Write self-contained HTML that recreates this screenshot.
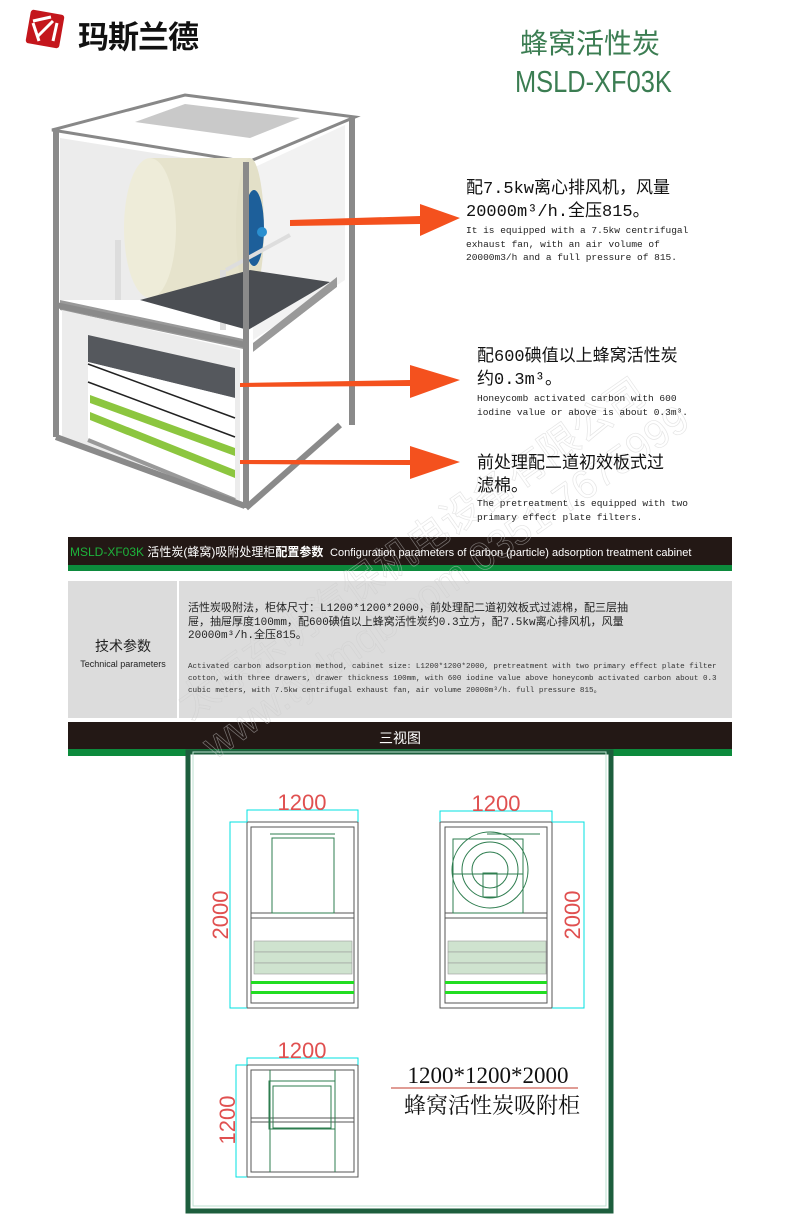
<!DOCTYPE html>
<html><head><meta charset="utf-8"><style>
body{margin:0;background:#fff;}
#w{position:relative;width:800px;height:1218px;overflow:hidden;font-family:"Liberation Sans","Noto Sans CJK SC",sans-serif;}
.a{position:absolute;white-space:nowrap;}
.cn{font-family:"Liberation Mono","Noto Sans CJK SC",monospace;color:#111;}
.en{font-family:"Liberation Mono","Noto Sans CJK SC",monospace;font-size:9.5px;color:#222;line-height:13.5px;}
</style></head><body><div id="w">
<svg class="a" style="left:0;top:0" width="800" height="1218" viewBox="0 0 800 1218">
<!-- logo -->
<g transform="translate(45,29)">
<rect x="-17" y="-17" width="34" height="34" rx="3" fill="#c4161c" transform="rotate(10)"/>
<path d="M-12,-8 L6,-12 M12,-6 L8,12 M-6,12 L-12,-6" stroke="#fff" stroke-width="3" fill="none"/>
<path d="M-8,8 L8,-8" stroke="#fff" stroke-width="3"/>
</g>
<!-- cabinet -->
<polygon points="52,130 185,95 355,117 248,162" fill="#fff" stroke="#888" stroke-width="3"/>
<polygon points="135,122 185,104 300,118 250,138" fill="#c9c9c9"/>
<polygon points="60,138 248,168 248,300 60,300" fill="#ececec"/>
<polygon points="253,168 345,125 345,280 253,340" fill="#f2f2f2"/>
<rect x="150" y="158" width="100" height="140" fill="#e6e3cc"/>
<ellipse cx="150" cy="228" rx="26" ry="70" fill="#eeecd9"/>
<ellipse cx="250" cy="228" rx="14" ry="70" fill="#e3e0c8"/>
<ellipse cx="254" cy="228" rx="10" ry="38" fill="#1d5f9a"/>
<circle cx="262" cy="232" r="5" fill="#2a8fd0"/>
<rect x="115" y="240" width="6" height="60" fill="#ddd"/>
<rect x="220" y="270" width="6" height="60" fill="#ddd"/>
<line x1="226" y1="270" x2="290" y2="235" stroke="#ddd" stroke-width="4"/>
<polygon points="60,300 248,340 248,350 60,310" fill="#999"/>
<polygon points="140,300 248,330 330,282 250,270" fill="#4a4d52"/>
<polygon points="253,343 337,277 337,287 253,352" fill="#999"/>
<polygon points="62,310 240,350 240,505 62,440" fill="#ececec"/>
<polygon points="88,335 235,368 235,398 88,362" fill="#55585d"/>
<polygon points="88,362 235,398 235,505 88,440" fill="#fff"/>
<line x1="88" y1="364" x2="235" y2="418" stroke="#222" stroke-width="1.5"/>
<line x1="88" y1="382" x2="235" y2="437" stroke="#222" stroke-width="1.5"/>
<polygon points="90,395 235,448 235,456 90,403" fill="#8cc63f"/>
<polygon points="90,412 235,470 235,478 90,420" fill="#8cc63f"/>
<line x1="88" y1="440" x2="235" y2="500" stroke="#999" stroke-width="4"/>
<polygon points="253,352 337,287 337,423 253,505" fill="#fff"/>
<g fill="none" stroke="#8a8a8a" stroke-width="6">
<line x1="56" y1="130" x2="56" y2="437"/>
<line x1="56" y1="437" x2="245" y2="506"/>
<line x1="246" y1="162" x2="246" y2="508"/>
<line x1="352" y1="117" x2="352" y2="425"/>
<line x1="246" y1="508" x2="340" y2="425"/>
<line x1="56" y1="305" x2="246" y2="345"/>
</g>
<!-- arrows -->
<g fill="#f4511e">
<polygon points="290,220 420,216 420,204 460,218 420,236 420,224 290,226"/>
<polygon points="240,383 410,380 410,365 460,380 410,398 410,386 240,387"/>
<polygon points="240,460 410,460 410,446 460,462 410,479 410,465 240,464"/>
</g>
<!-- banners -->
<rect x="68" y="537" width="664" height="29" fill="#231815"/>
<rect x="68" y="565" width="664" height="6" fill="#0c8a3c"/>
<rect x="68" y="581" width="664" height="137" fill="#dcdcdc"/>
<rect x="177" y="581" width="2" height="137" fill="#fff"/>
<rect x="68" y="722" width="664" height="28" fill="#231815"/>
<rect x="68" y="749" width="664" height="7" fill="#0c8a3c"/>
<!-- frame -->
<rect x="188" y="752" width="423" height="459" fill="#fff" stroke="#1d5e3d" stroke-width="5"/>
<rect x="193" y="752" width="413" height="454" fill="none" stroke="#bde0d0" stroke-width="1"/>
<!-- drawings -->
<g fill="none" stroke="#555" stroke-width="1">
<rect x="247" y="822" width="111" height="186"/><rect x="251" y="827" width="103" height="176"/>
<rect x="440" y="822" width="112" height="186"/><rect x="445" y="827" width="102" height="176"/>
<rect x="247" y="1065" width="111" height="112"/><rect x="251" y="1070" width="103" height="102"/>
<line x1="251" y1="913" x2="354" y2="913"/><line x1="445" y1="913" x2="547" y2="913"/>
<line x1="251" y1="918" x2="354" y2="918"/><line x1="445" y1="918" x2="547" y2="918"/>
<line x1="251" y1="1118" x2="354" y2="1118"/><line x1="251" y1="1122" x2="354" y2="1122"/>
</g>
<g fill="none" stroke="#2e7d4f" stroke-width="1">
<rect x="272" y="838" width="62" height="75"/><line x1="270" y1="834" x2="335" y2="834"/>
<rect x="453" y="839" width="70" height="74"/><line x1="487" y1="834" x2="540" y2="834"/>
<circle cx="490" cy="870" r="38"/><circle cx="490" cy="870" r="28"/><circle cx="490" cy="870" r="18"/>
<rect x="483" y="873" width="14" height="24"/><line x1="453" y1="874" x2="523" y2="874"/>
<rect x="269" y="1081" width="66" height="48"/><rect x="273" y="1086" width="58" height="42"/>
<line x1="270" y1="1070" x2="270" y2="1172"/><line x1="335" y1="1070" x2="335" y2="1172"/>
</g>
<g fill="#cfe3cf" stroke="#999" stroke-width="0.6">
<rect x="254" y="941" width="98" height="11"/><rect x="254" y="952" width="98" height="11"/><rect x="254" y="963" width="98" height="11"/>
<rect x="448" y="941" width="98" height="11"/><rect x="448" y="952" width="98" height="11"/><rect x="448" y="963" width="98" height="11"/>
</g>
<g fill="#22dd22">
<rect x="251" y="981" width="103" height="3"/><rect x="251" y="991" width="103" height="3"/>
<rect x="445" y="981" width="102" height="3"/><rect x="445" y="991" width="102" height="3"/>
</g>
<g fill="none" stroke="#00e0e0" stroke-width="1">
<polyline points="247,822 247,810 358,810 358,822"/>
<polyline points="440,822 440,811 552,811 552,822"/>
<polyline points="247,822 230,822 230,1008 247,1008"/>
<polyline points="552,822 584,822 584,1008 552,1008"/>
<polyline points="247,1065 247,1058 358,1058 358,1065"/>
<polyline points="247,1065 236,1065 236,1177 247,1177"/>
</g>
<g fill="#e05050" font-family="Liberation Sans,sans-serif" font-size="22">
<text x="302" y="810" text-anchor="middle">1200</text>
<text x="496" y="811" text-anchor="middle">1200</text>
<text x="302" y="1058" text-anchor="middle">1200</text>
<text transform="translate(228,915) rotate(-90)" text-anchor="middle">2000</text>
<text transform="translate(580,915) rotate(-90)" text-anchor="middle">2000</text>
<text transform="translate(235,1120) rotate(-90)" text-anchor="middle">1200</text>
</g>
<line x1="391" y1="1088" x2="578" y2="1088" stroke="#c0392b" stroke-width="1"/>
<text x="488" y="1083" text-anchor="middle" font-family="Liberation Serif,serif" font-size="23" fill="#111">1200*1200*2000</text>
<text x="492" y="1113" text-anchor="middle" font-family="Liberation Serif,'Noto Serif CJK SC',serif" font-size="22" fill="#111">蜂窝活性炭吸附柜</text>
<!-- watermark -->
<g fill="none" stroke="#ccc" stroke-width="0.7" font-size="40" font-family="Liberation Sans,'Noto Sans CJK SC',sans-serif" opacity="0.5">
<text transform="translate(190,720) rotate(-35)">太原东明汽保机电设备有限公司</text>
<text transform="translate(215,760) rotate(-35)">www.tydmqb.com 0351-7675999</text>
</g>
</svg>
<div class="a" style="left:78px;top:12px;font-size:31px;font-weight:bold;font-family:'Noto Sans CJK SC',sans-serif;color:#111;letter-spacing:-1px">玛斯兰德</div>
<div class="a" style="left:520px;top:22px;font-size:28px;color:#3b7d52;font-family:'Noto Sans CJK SC',sans-serif">蜂窝活性炭</div>
<div class="a" style="left:515px;top:64px;font-size:31px;color:#3b7d52;font-family:'Liberation Sans',sans-serif;transform:scaleX(0.82);transform-origin:left">MSLD-XF03K</div>
<div class="a cn" style="left:466px;top:178px;font-size:17px;line-height:23px">配7.5kw离心排风机，风量<br>20000m³/h.全压815。</div>
<div class="a en" style="left:466px;top:224px">It is equipped with a 7.5kw centrifugal<br>exhaust fan, with an air volume of<br>20000m3/h and a full pressure of 815.</div>
<div class="a cn" style="left:477px;top:346px;font-size:17px;line-height:23px">配600碘值以上蜂窝活性炭<br>约0.3m³。</div>
<div class="a en" style="left:477px;top:392px">Honeycomb activated carbon with 600<br>iodine value or above is about 0.3m³.</div>
<div class="a cn" style="left:477px;top:453px;font-size:17px;line-height:23px">前处理配二道初效板式过<br>滤棉。</div>
<div class="a en" style="left:477px;top:497px">The pretreatment is equipped with two<br>primary effect plate filters.</div>
<div class="a" style="left:70px;top:543px;font-size:12px;color:#fff;font-family:'Liberation Sans','Noto Sans CJK SC',sans-serif"><span style="color:#1db33b">MSLD-XF03K</span> 活性炭(蜂窝)吸附处理柜<b>配置参数</b> &nbsp;<span style="font-size:11px">Configuration parameters of carbon (particle) adsorption treatment cabinet</span></div>
<div class="a" style="left:68px;top:636px;width:110px;text-align:center;font-size:14px;color:#222;font-family:'Noto Sans CJK SC',sans-serif">技术参数</div>
<div class="a" style="left:68px;top:659px;width:110px;text-align:center;font-size:9px;color:#222">Technical parameters</div>
<div class="a cn" style="left:188px;top:603px;font-size:11px;line-height:13.5px;color:#222">活性炭吸附法，柜体尺寸：L1200*1200*2000，前处理配二道初效板式过滤棉，配三层抽<br>屉，抽屉厚度100mm，配600碘值以上蜂窝活性炭约0.3立方，配7.5kw离心排风机，风量<br>20000m³/h.全压815。</div>
<div class="a" style="left:188px;top:661px;font-size:7.6px;line-height:12px;color:#333;font-family:'Liberation Mono',monospace">Activated carbon adsorption method, cabinet size: L1200*1200*2000, pretreatment with two primary effect plate filter<br>cotton, with three drawers, drawer thickness 100mm, with 600 iodine value above honeycomb activated carbon about 0.3<br>cubic meters, with 7.5kw centrifugal exhaust fan, air volume 20000m³/h. full pressure 815。</div>
<div class="a" style="left:68px;top:728px;width:664px;text-align:center;font-size:14px;color:#fff;font-family:'Noto Sans CJK SC',sans-serif">三视图</div>
</div></body></html>
